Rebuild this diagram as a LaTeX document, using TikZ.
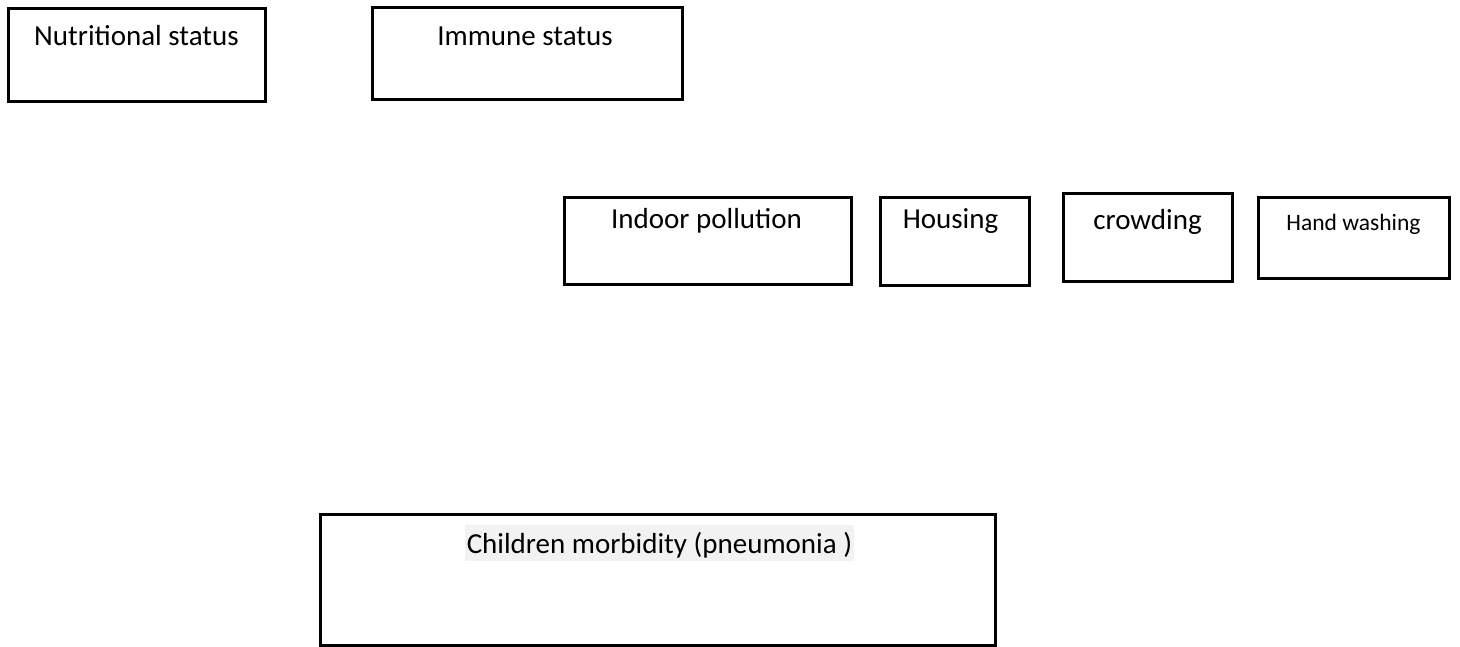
\documentclass[tikz,border=0pt]{standalone}
\usepackage{fontspec}
\setmainfont{Carlito}
\begin{document}
\begin{tikzpicture}[x=1pt,y=-1pt,
  box/.style={draw=black,line width=3pt,rectangle,inner sep=0pt,outer sep=0pt},
  lbl/.style={anchor=base,inner sep=0pt,font=\fontsize{29}{35}\selectfont,text=black},
  slbl/.style={anchor=base,inner sep=0pt,font=\fontsize{23.5}{28}\selectfont,text=black},
  hl/.style={fill=black!5,inner xsep=2pt,inner ysep=0pt,text height=28pt,text depth=8pt}]
\useasboundingbox (0,0) rectangle (1460,646);
\fill[white] (0,0) rectangle (1460,646);
% boxes
\node[box,minimum width=257,minimum height=93] (nut) at (136.5,54.5) {};
\node[box,minimum width=310,minimum height=92] (imm) at (527,53) {};
\node[box,minimum width=287,minimum height=87] (ind) at (707.5,240.5) {};
\node[box,minimum width=149,minimum height=88] (hou) at (954.5,241) {};
\node[box,minimum width=169,minimum height=88] (cro) at (1147.5,237) {};
\node[box,minimum width=191,minimum height=81] (han) at (1353.5,237.5) {};
\node[box,minimum width=675,minimum height=131] (chi) at (657.5,579.5) {};
% labels
\node[lbl] (nutt) at (136.5,45.7) {Nutritional status};
\node[lbl] (immt) at (525,45.5) {Immune status};
\node[lbl] (indt) at (706.5,228) {Indoor pollution};
\node[lbl] (hout) at (950.5,228.5) {Housing};
\node[lbl] (crot) at (1147.5,229) {crowding};
\node[slbl] (hant) at (1353.5,230) {Hand washing};
\node[lbl,hl] (chit) at (659.5,553) {Children morbidity (pneumonia )};
\end{tikzpicture}
\end{document}
